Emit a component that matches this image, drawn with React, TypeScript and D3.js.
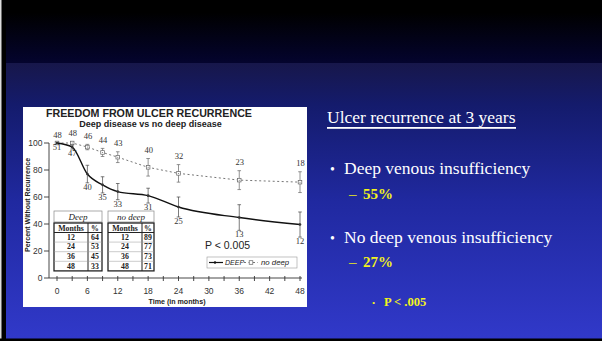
import * as d3 from "d3";

const W = 602;
const H = 341;

// survival estimates (percent without recurrence)
const months = [0, 3, 6, 9, 12, 18, 24, 36, 48];
const deepPct = [100, 97, 77, 69, 64, 61, 52.6, 44.8, 39.6];
const deepErr = [0, 1.5, 6.5, 6, 6, 5.5, 7.4, 9.5, 9.3];
const deepN = [51, 47, 40, 35, 33, 31, 25, 13, 12];
const noDeepPct = [100, 100, 97, 93, 89.5, 82, 77.5, 72.5, 71];
const noDeepErr = [0, 1, 2, 3, 4, 6.5, 6.5, 7, 7.7];
const noDeepN = [48, 48, 46, 44, 43, 40, 32, 23, 18];

const xTickLabels = [0, 6, 12, 18, 24, 30, 36, 42, 48];
const xMinorTicks = [0, 3, 6, 9, 12, 15, 18, 21, 24, 27, 30, 33, 36, 39, 42, 45, 48];
const yTickLabels = [0, 20, 40, 60, 80, 100];

const tableMonths = [12, 24, 36, 48];
const deepTablePct = [64, 53, 45, 33];
const noDeepTablePct = [89, 77, 73, 71];

const SANS = "Liberation Sans, Arial, sans-serif";
const SERIF = "Liberation Serif, Times New Roman, serif";
const YELLOW = "#f2f21c";

function SurvTable({ x0, x1, xDiv, title, pct }: { x0: number; x1: number; xDiv: number; title: string; pct: number[] }) {
  const top = 223;
  const headBottom = 232.5;
  const rowH = 9.6;
  return (
    <g fontFamily={SERIF} fill="#222">
      <rect x={x0} y={211} width={x1 - x0} height={11} fill="none" stroke="#888" strokeWidth={0.7} />
      <text x={(x0 + x1) / 2} y={219.5} textAnchor="middle" fontStyle="italic" fontSize={9}>
        {title}
      </text>
      <rect x={x0} y={top} width={x1 - x0} height={headBottom - top + rowH * 4} fill="none" stroke="#222" strokeWidth={1.3} />
      <line x1={x0} x2={x1} y1={headBottom} y2={headBottom} stroke="#222" strokeWidth={1.2} />
      <line x1={xDiv} x2={xDiv} y1={top} y2={headBottom + rowH * 4} stroke="#222" strokeWidth={1} />
      <text x={(x0 + xDiv) / 2} y={230.8} textAnchor="middle" fontWeight="bold" fontSize={7.8}>Months</text>
      <text x={(xDiv + x1) / 2} y={230.8} textAnchor="middle" fontWeight="bold" fontSize={7.8}>%</text>
      {tableMonths.map((m, i) => (
        <g key={m}>
          {i > 0 && (
            <line x1={x0} x2={x1} y1={headBottom + rowH * i} y2={headBottom + rowH * i} stroke="#999" strokeWidth={0.5} />
          )}
          <text x={(x0 + xDiv) / 2} y={headBottom + rowH * i + 7.3} textAnchor="middle" fontWeight="bold" fontSize={7.8}>{m}</text>
          <text x={(xDiv + x1) / 2} y={headBottom + rowH * i + 7.3} textAnchor="middle" fontWeight="bold" fontSize={7.8}>{pct[i]}</text>
        </g>
      ))}
    </g>
  );
}

export default function App() {
  const x = d3.scaleLinear().domain([0, 48]).range([57, 300]);
  const y = d3.scaleLinear().domain([0, 100]).range([278, 143]);

  const deepPts = months.map((m, i) => ({ m, v: deepPct[i], e: deepErr[i], n: deepN[i] }));
  const noDeepPts = months.map((m, i) => ({ m, v: noDeepPct[i], e: noDeepErr[i], n: noDeepN[i] }));

  const deepLine = d3
    .line<{ m: number; v: number }>()
    .x((d) => x(d.m))
    .y((d) => y(d.v))
    .curve(d3.curveMonotoneX);
  const noDeepLine = d3
    .line<{ m: number; v: number }>()
    .x((d) => x(d.m))
    .y((d) => y(d.v));

  return (
    <svg width={W} height={H} style={{ position: "absolute", left: 0, top: 0, display: "block" }}>
      <defs>
        <linearGradient id="topBand" x1="0" y1="0" x2="0" y2="1">
          <stop offset="0" stopColor="#000000" />
          <stop offset="0.2" stopColor="#000000" />
          <stop offset="1" stopColor="#04042e" />
        </linearGradient>
        <linearGradient id="mainBand" x1="0" y1="0" x2="0" y2="1">
          <stop offset="0" stopColor="#17174a" />
          <stop offset="0.15" stopColor="#141b6c" />
          <stop offset="0.5" stopColor="#2029a0" />
          <stop offset="1" stopColor="#3139ca" />
        </linearGradient>
      </defs>

      {/* slide background */}
      <rect x={0} y={0} width={W} height={63} fill="url(#topBand)" />
      <rect x={0} y={63} width={W} height={H - 63} fill="url(#mainBand)" />
      <rect x={0} y={0} width={6} height={H} fill="#000" />
      <rect x={0} y={0} width={1.5} height={H} fill="#ddd" />
      <rect x={0} y={H - 2.5} width={W} height={2.5} fill="#000" />

      {/* chart panel */}
      <rect x={23} y={107} width={284} height={200} fill="#fff" />

      <text x={149} y={116.5} textAnchor="middle" fontFamily={SANS} fontWeight="bold" fontSize={10.7} fill="#222">
        FREEDOM FROM ULCER RECURRENCE
      </text>
      <text x={150.5} y={127} textAnchor="middle" fontFamily={SANS} fontWeight="bold" fontSize={9} fill="#222">
        Deep disease vs no deep disease
      </text>

      {/* axes */}
      <g stroke="#333" strokeWidth={0.9}>
        <line x1={49} x2={49} y1={y(100)} y2={y(0)} />
        <line x1={49} x2={302} y1={y(0)} y2={y(0)} />
        {yTickLabels.map((t) => (
          <line key={t} x1={44} x2={49} y1={y(t)} y2={y(t)} />
        ))}
        {xMinorTicks.map((t) => (
          <line key={t} x1={x(t)} x2={x(t)} y1={y(0) - 2} y2={y(0) + 3} />
        ))}
      </g>
      <g fontFamily={SANS} fontSize={8.5} fill="#333">
        {yTickLabels.map((t) => (
          <text key={t} x={42.5} y={y(t) + 3} textAnchor="end">{t}</text>
        ))}
        {xTickLabels.map((t) => (
          <text key={t} x={x(t)} y={293.5} textAnchor="middle">{t}</text>
        ))}
      </g>
      <text
        transform={`translate(29.5,205) rotate(-90)`}
        textAnchor="middle"
        fontFamily={SANS}
        fontWeight="bold"
        fontSize={7}
        fill="#222"
      >
        Percent Without Recurrence
      </text>
      <text x={177} y={303.5} textAnchor="middle" fontFamily={SANS} fontWeight="bold" fontSize={7.1} fill="#222">
        Time (in months)
      </text>

      {/* no deep series */}
      <path d={noDeepLine(noDeepPts) ?? ""} fill="none" stroke="#777" strokeWidth={1} strokeDasharray="2,2.5" />
      {noDeepPts.map((d) => (
        <g key={`nd${d.m}`} stroke="#666" strokeWidth={0.7} fill="none">
          {d.e > 0 && (
            <>
              <line x1={x(d.m)} x2={x(d.m)} y1={y(d.v + d.e)} y2={y(d.v - d.e)} />
              <line x1={x(d.m) - 1.8} x2={x(d.m) + 1.8} y1={y(d.v + d.e)} y2={y(d.v + d.e)} />
              <line x1={x(d.m) - 1.8} x2={x(d.m) + 1.8} y1={y(d.v - d.e)} y2={y(d.v - d.e)} />
            </>
          )}
          <rect x={x(d.m) - 1.8} y={y(d.v) - 1.8} width={3.6} height={3.6} fill="#fff" />
          <circle cx={x(d.m)} cy={y(d.v)} r={0.5} fill="#666" stroke="none" />
          <text
            x={x(d.m) + 0.5}
            y={y(d.v + d.e) - 5.5}
            textAnchor="middle"
            fontFamily={SERIF}
            fontSize={8.5}
            fill="#333"
            stroke="none"
          >
            {d.n}
          </text>
        </g>
      ))}

      {/* deep series */}
      <path d={deepLine(deepPts) ?? ""} fill="none" stroke="#111" strokeWidth={1.4} />
      {deepPts.map((d) => (
        <g key={`d${d.m}`} stroke="#444" strokeWidth={0.7}>
          {d.e > 0 && (
            <>
              <line x1={x(d.m)} x2={x(d.m)} y1={y(d.v + d.e)} y2={y(d.v - d.e)} />
              <line x1={x(d.m) - 1.8} x2={x(d.m) + 1.8} y1={y(d.v + d.e)} y2={y(d.v + d.e)} />
              <line x1={x(d.m) - 1.8} x2={x(d.m) + 1.8} y1={y(d.v - d.e)} y2={y(d.v - d.e)} />
            </>
          )}
          <circle cx={x(d.m)} cy={y(d.v)} r={1.3} fill="#333" stroke="none" />
          <text
            x={x(d.m)}
            y={y(d.v - d.e) + 7}
            textAnchor="middle"
            fontFamily={SERIF}
            fontSize={8.5}
            fill="#333"
            stroke="none"
          >
            {d.n}
          </text>
        </g>
      ))}

      {/* tables */}
      <SurvTable x0={54} x1={102} xDiv={88} title="Deep" pct={deepTablePct} />
      <SurvTable x0={108} x1={154} xDiv={142} title="no deep" pct={noDeepTablePct} />

      <text x={205} y={249} fontFamily={SANS} fontSize={10.5} fill="#222">P &lt; 0.005</text>

      {/* legend */}
      <g>
        <rect x={207} y={257} width={90} height={11} fill="#fff" stroke="#999" strokeWidth={0.6} />
        <line x1={209} x2={223} y1={262.5} y2={262.5} stroke="#111" strokeWidth={1.2} />
        <circle cx={215} cy={262.5} r={1.2} fill="#111" />
        <text x={225} y={265} fontFamily={SANS} fontStyle="italic" fontSize={7} fill="#222">DEEP</text>
        <line x1={244} x2={258} y1={262.5} y2={262.5} stroke="#777" strokeWidth={1} strokeDasharray="2,2.5" />
        <rect x={249.2} y={260.7} width={3.6} height={3.6} fill="#fff" stroke="#666" strokeWidth={0.7} />
        <text x={261} y={265} fontFamily={SANS} fontStyle="italic" fontSize={7.8} fill="#222">no deep</text>
      </g>

      {/* slide text */}
      <g fontFamily={SERIF}>
        <text x={327} y={123} fontSize={17.5} fill="#fff">Ulcer recurrence at 3 years</text>
        <rect x={327} y={127} width={189} height={1.8} fill="#fff" />

        <text x={330} y={174} fontSize={14} fill="#fff">•</text>
        <text x={344} y={174} fontSize={17.5} fill="#fff">Deep venous insufficiency</text>
        <text x={349} y={199} fontSize={15} fill={YELLOW}>–</text>
        <text x={363} y={199} fontSize={15} fontWeight="bold" fill={YELLOW}>55%</text>

        <text x={330} y={243} fontSize={14} fill="#fff">•</text>
        <text x={344} y={243} fontSize={17.5} fill="#fff">No deep venous insufficiency</text>
        <text x={349} y={267} fontSize={15} fill={YELLOW}>–</text>
        <text x={363} y={267} fontSize={15} fontWeight="bold" fill={YELLOW}>27%</text>

        <text x={372} y={306} fontSize={9} fill={YELLOW}>•</text>
        <text x={384} y={306} fontSize={12.5} fontWeight="bold" fill={YELLOW}>P &lt; .005</text>
      </g>
    </svg>
  );
}
